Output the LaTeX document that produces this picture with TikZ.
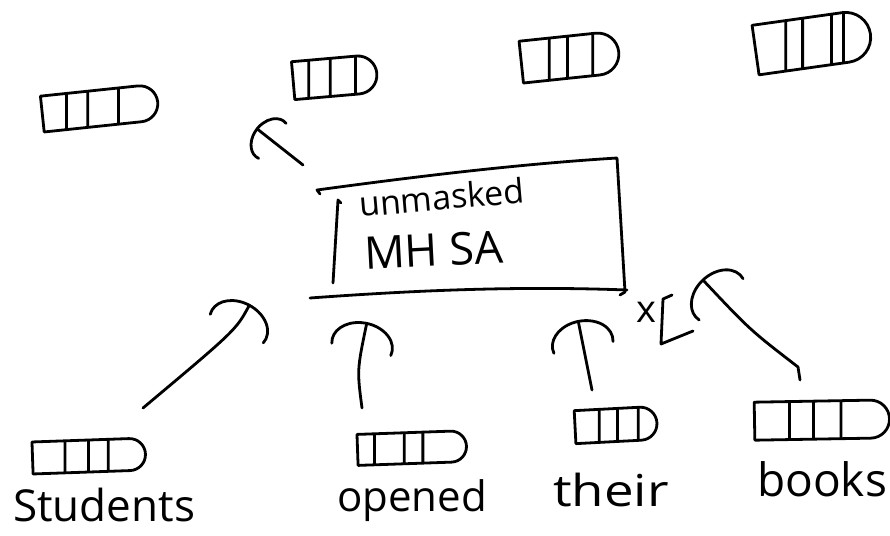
\documentclass[tikz,border=0pt]{standalone}
\usepackage{fontspec}
\setmainfont{Open Sans}
\usetikzlibrary{arrows.meta,shapes.misc,calc}

\tikzset{
  pen/.style={line width=2.8pt, line cap=round, line join=round},
  vec/.style n args={3}{pen, draw, rounded rectangle, rounded rectangle left arc=none,
    inner sep=0pt, minimum width=#1, minimum height=#2,
    path picture={\foreach \f in {#3}{
      \draw[pen] ($(path picture bounding box.south west)!\f!(path picture bounding box.south east)$)
        -- ($(path picture bounding box.north west)!\f!(path picture bounding box.north east)$);}}},
  conn/.style={pen, -{Arc Barb[width=64pt,length=24pt,arc=200,round]}},
  smallconn/.style={pen, -{Arc Barb[width=48pt,length=18pt,arc=200,round]}},
  word/.style={inner sep=0pt, anchor=base west},
}

\begin{document}
\begin{tikzpicture}[x=1pt,y=-1pt]
\useasboundingbox[fill=white] (0,0) rectangle (890,535);

% output vectors
\node[vec={116pt}{36pt}{0.22,0.4,0.66}, rotate=6] (t1) at (100,108) {};
\node[vec={84pt}{38pt}{0.2,0.45,0.74}, rotate=5] (t2) at (335,77) {};
\node[vec={98pt}{42pt}{0.3,0.48,0.73}, rotate=6] (t3) at (570,57) {};
\node[vec={116pt}{50pt}{0.28,0.42,0.66,0.76}, rotate=8] (t4) at (813,42) {};

% input vectors
\node[vec={113pt}{32pt}{0.29,0.5,0.67}, rotate=2] (bS) at (89,456) {};
\node[vec={109pt}{31pt}{0.16,0.43,0.6}, rotate=2] (bO) at (412,448) {};
\node[vec={82pt}{33pt}{0.3,0.52,0.77}, rotate=3] (bT) at (616,425) {};
\node[vec={135pt}{38pt}{0.26,0.44,0.64}, rotate=1] (bB) at (822,420) {};

% input words
\node[word, font=\fontsize{44}{44}\selectfont] (wS) at (13,521) {Students};
\node[word, font=\fontsize{42}{42}\selectfont] (wO) at (337,511) {opened};
\node[word, font=\fontsize{44}{44}\selectfont, xscale=1.2] (wT) at (553,506) {their};
\node[word, font=\fontsize{46}{46}\selectfont] (wB) at (757,496) {books};

% attention block
\node[word, font=\fontsize{34}{34}\selectfont, rotate=5] (l1) at (360,217) {unmasked};
\node[word, font=\fontsize{45}{45}\selectfont, rotate=3] (l2) at (365,270) {MH SA};
\draw[pen] (320,194) -- (317,190) .. controls (420,176) and (520,164) .. (617,158)
  -- (625,292) -- (620,295);
\draw[pen] (310,298) .. controls (420,290) and (520,286) .. (627,290);
\draw[pen] (341,203) -- (338,200) -- (333,283);

% connectors
\coordinate (s0) at (303,165);
\coordinate (h0) at (256,128);
\draw[smallconn] (s0) -- (h0);

\coordinate (sS) at (143,408);
\coordinate (hS) at (250,304);
\draw[conn] (sS) .. controls (236,330) .. (hS);

\coordinate (sO) at (362,408);
\coordinate (hO) at (367,322);
\draw[conn] (sO) .. controls (357,370) .. (hO);

\coordinate (sT) at (592,390);
\coordinate (hT) at (578,320);
\draw[conn] (sT) -- (hT);

\coordinate (sB) at (800,380);
\coordinate (hB) at (702,279);
\draw[conn] (sB) -- (798,367) .. controls (750,330) .. (hB);

% masked marker
\node[inner sep=0pt, font=\fontsize{38}{38}\selectfont] (mx) at (646,312) {x};
\draw[pen] (672,295) -- (663,299) -- (661,344) -- (693,331);
\end{tikzpicture}
\end{document}
